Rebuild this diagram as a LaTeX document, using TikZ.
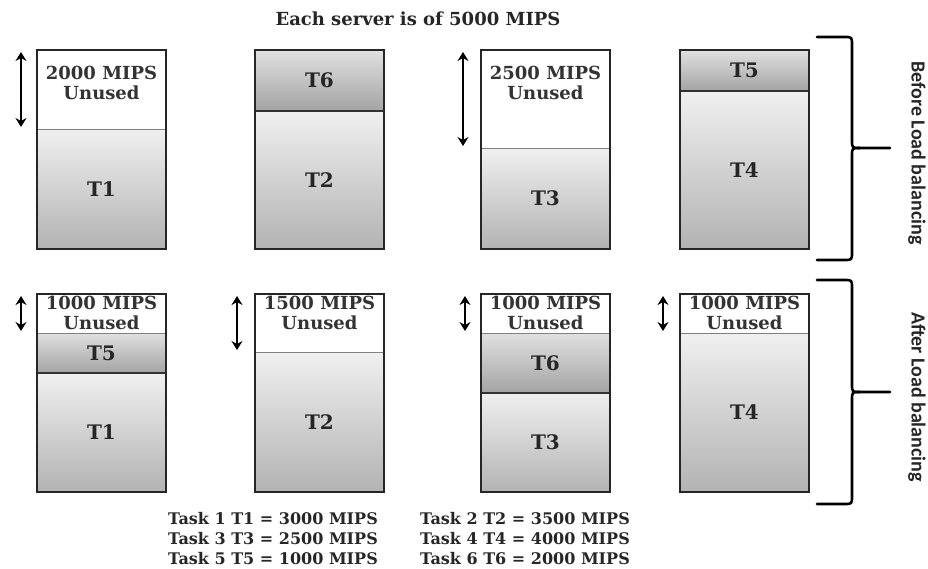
\documentclass[tikz,border=0pt]{standalone}
\usepackage{fontspec}
\setmainfont{DejaVu Serif}
\newfontfamily\sidefont{Carlito}
\usetikzlibrary{positioning,arrows.meta}

\begin{document}
\begin{tikzpicture}[x=1pt, y=-1pt,
  seg/.style={outer sep=0pt, inner sep=0pt, minimum width=129pt,
    font=\bfseries\fontsize{20}{22}\selectfont, text=black!85},
  task/.style={seg, draw=black!80, line width=1.6pt, top color=black!6, bottom color=black!30},
  small/.style={task, top color=black!12, bottom color=black!36},
  free/.style={seg, draw=black!50, line width=1pt, fill=white},
  freetxt/.style={align=center, inner sep=0pt, font=\bfseries\fontsize{18}{20}\selectfont, text=black!80},
  frame/.style={draw=black!85, line width=2pt},
  updown/.style={{Stealth[length=9pt,width=11pt,inset=3pt]}-{Stealth[length=9pt,width=11pt,inset=3pt]}, line width=2pt},
  brace/.style={line width=2.6pt, line cap=round},
  side/.style={font=\sidefont\bfseries\fontsize{20}{22}\selectfont, text=black!85, rotate=-90},
  legend/.style={align=left, anchor=west, inner sep=0pt, font=\bfseries\fontsize{16}{20}\selectfont, text=black!85}]
  \useasboundingbox (0,0) rectangle (928,568);

  \node[font=\bfseries\fontsize{18}{20}\selectfont, text=black!85] (ttl) at (418,19) {Each server is of 5000 MIPS};

  % before load balancing
  \node[task, minimum height=120pt, anchor=south west] (a1) at (37,249) {T1};
  \node[free, minimum height=79pt, above=0pt of a1] (au1) {};
  \node[task, minimum height=138pt, anchor=south west] (a2) at (255,249) {T2};
  \node[small, minimum height=61pt, above=0pt of a2] (a6) {T6};
  \node[task, minimum height=101pt, anchor=south west] (a3) at (481,249) {T3};
  \node[free, minimum height=98pt, above=0pt of a3] (au3) {};
  \node[task, minimum height=158pt, anchor=south west] (a4) at (680,249) {T4};
  \node[small, minimum height=41pt, above=0pt of a4] (a5) {T5};
  \node[freetxt] (au1t) at ([yshift=-33pt]au1.north) {2000 MIPS\\Unused};
  \node[freetxt] (au3t) at ([yshift=-33pt]au3.north) {2500 MIPS\\Unused};
  \draw[frame] (au1.north west) rectangle (a1.south east);
  \draw[frame] (a6.north west) rectangle (a2.south east);
  \draw[frame] (au3.north west) rectangle (a3.south east);
  \draw[frame] (a5.north west) rectangle (a4.south east);
  \draw[updown] ([xshift=-16pt,yshift=-2pt]au1.north west) -- ([xshift=-16pt,yshift=2pt]au1.south west);
  \draw[updown] ([xshift=-18pt,yshift=-2pt]au3.north west) -- ([xshift=-18pt,yshift=2pt]au3.south west);

  % after load balancing
  \node[task, minimum height=119pt, anchor=south west] (b1) at (37,492) {T1};
  \node[small, minimum height=40pt, above=0pt of b1] (b5) {T5};
  \node[free, minimum height=39pt, above=0pt of b5] (bu1) {};
  \node[task, minimum height=140pt, anchor=south west] (b2) at (255,492) {T2};
  \node[free, minimum height=58pt, above=0pt of b2] (bu2) {};
  \node[task, minimum height=99pt, anchor=south west] (b3) at (481,492) {T3};
  \node[small, minimum height=60pt, above=0pt of b3] (b6) {T6};
  \node[free, minimum height=39pt, above=0pt of b6] (bu3) {};
  \node[task, minimum height=159pt, anchor=south west] (b4) at (680,492) {T4};
  \node[free, minimum height=39pt, above=0pt of b4] (bu4) {};
  \node[freetxt] (bu1t) at ([yshift=-19pt]bu1.north) {1000 MIPS\\Unused};
  \node[freetxt] (bu2t) at ([yshift=-19pt]bu2.north) {1500 MIPS\\Unused};
  \node[freetxt] (bu3t) at ([yshift=-19pt]bu3.north) {1000 MIPS\\Unused};
  \node[freetxt] (bu4t) at ([yshift=-19pt]bu4.north) {1000 MIPS\\Unused};
  \draw[frame] (bu1.north west) rectangle (b1.south east);
  \draw[frame] (bu2.north west) rectangle (b2.south east);
  \draw[frame] (bu3.north west) rectangle (b3.south east);
  \draw[frame] (bu4.north west) rectangle (b4.south east);
  \draw[updown] ([xshift=-16pt,yshift=-2pt]bu1.north west) -- ([xshift=-16pt,yshift=2pt]bu1.south west);
  \draw[updown] ([xshift=-18pt,yshift=-2pt]bu2.north west) -- ([xshift=-18pt,yshift=2pt]bu2.south west);
  \draw[updown] ([xshift=-16pt,yshift=-2pt]bu3.north west) -- ([xshift=-16pt,yshift=2pt]bu3.south west);
  \draw[updown] ([xshift=-17pt,yshift=-2pt]bu4.north west) -- ([xshift=-17pt,yshift=2pt]bu4.south west);

  % braces
  \foreach \ya/\ym/\yb in {37/148/260, 280/392/504} {
    \draw[brace] (817,\ya) -- (844,\ya) .. controls (852,\ya) .. (852,{\ya+8}) -- (852,{\ym-8})
      .. controls (852,\ym) .. (860,\ym) -- (890,\ym);
    \draw[brace] (860,\ym) .. controls (852,\ym) .. (852,{\ym+8}) -- (852,{\yb-8})
      .. controls (852,\yb) .. (844,\yb) -- (817,\yb);
  }
  \node[side] (before) at (917,153) {Before Load balancing};
  \node[side] (after) at (917,397) {After Load balancing};

  \node[legend] (legl) at (168,539) {Task 1 T1 = 3000 MIPS\\Task 3 T3 = 2500 MIPS\\Task 5 T5 = 1000 MIPS};
  \node[legend] (legr) at (420,539) {Task 2 T2 = 3500 MIPS\\Task 4 T4 = 4000 MIPS\\Task 6 T6 = 2000 MIPS};
\end{tikzpicture}
\end{document}
